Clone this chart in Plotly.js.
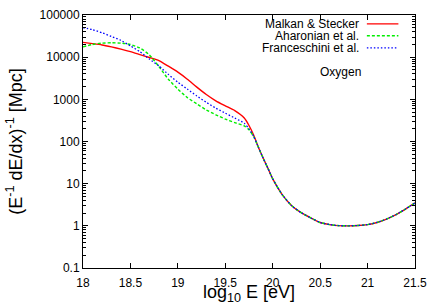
<!DOCTYPE html>
<html>
<head>
<meta charset="utf-8">
<script src="https://cdn.plot.ly/plotly-3.0.1.min.js"></script>
<style>html,body{margin:0;padding:0;background:#fff;}#chart{width:435px;height:305px;}</style>
</head>
<body>
<div id="chart"></div>
<script>
// log10 of energy [eV]
const logE = [18.0, 18.1, 18.2, 18.3, 18.4, 18.5, 18.6, 18.7, 18.8, 18.9, 19.0, 19.1, 19.2, 19.3, 19.4, 19.5, 19.6, 19.7, 19.75, 19.8,
  19.85, 19.9, 19.95, 20.0, 20.1, 20.2, 20.3, 20.4, 20.5, 20.6, 20.7, 20.8, 20.9, 21.0, 21.1, 21.2, 21.3, 21.4, 21.5];

// energy loss length (E^-1 dE/dx)^-1 in Mpc
const malkanStecker = [22500, 21000, 19500, 17500, 15500, 13500, 11500, 9800, 8300, 6100, 4400, 3000, 1950, 1300, 920, 700, 540, 360, 240, 140,
  72, 40, 23, 13, 5.5, 3.0, 2.05, 1.55, 1.2, 1.07, 1.01, 1.0, 1.02, 1.07, 1.2, 1.45, 1.85, 2.5, 3.5];
const aharonian = [17500, 20000, 21500, 22000, 21500, 20000, 16500, 11300, 6000, 3000, 1750, 1100, 780, 560, 430, 340, 280, 235, 190, 130,
  72, 40, 23, 13, 5.5, 3.0, 2.05, 1.55, 1.2, 1.07, 1.01, 1.0, 1.02, 1.07, 1.2, 1.45, 1.85, 2.5, 3.5];
const franceschini = [50000, 45000, 38000, 31000, 25000, 18500, 13500, 9000, 6200, 3900, 2550, 1750, 1200, 850, 620, 470, 360, 270, 200, 132,
  72, 40, 23, 13, 5.5, 3.0, 2.05, 1.55, 1.2, 1.07, 1.01, 1.0, 1.02, 1.07, 1.2, 1.45, 1.85, 2.5, 3.5];

const seriesNames = ['Malkan & Stecker', 'Aharonian et al.', 'Franceschini et al.'];
const seriesColors = ['#ff0000', '#00ee00', '#0000ff'];
const seriesDash = ['solid', '3px,2px', '1.5px,2px'];
const seriesWidth = [1.4, 1.4, 1.3];
const seriesValues = [malkanStecker, aharonian, franceschini];

const xTicks = [18, 18.5, 19, 19.5, 20, 20.5, 21, 21.5];
const yTicks = [0.1, 1, 10, 100, 1000, 10000, 100000];
const yTickText = ['0.1', '1', '10', '100', '1000', '10000', '100000'];
const panelLabel = 'Oxygen';

const font = 'Liberation Sans, Arial, Helvetica, sans-serif';

const traces = seriesValues.map((v, i) => ({
  x: logE, y: v, type: 'scatter', mode: 'lines', name: seriesNames[i],
  line: {color: seriesColors[i], width: seriesWidth[i], dash: seriesDash[i], shape: 'spline', smoothing: 0.6},
  showlegend: false, hoverinfo: 'skip'
}));

const annotations = [];
const shapes = [];
const legY = [0.965, 0.918, 0.870];
seriesNames.forEach((n, i) => {
  annotations.push({xref: 'paper', yref: 'paper', x: 0.835, y: legY[i], xanchor: 'right', yanchor: 'middle',
    text: n, showarrow: false, borderpad: 0, font: {family: font, size: 12, color: '#000'}});
  shapes.push({type: 'line', xref: 'paper', yref: 'paper', x0: 0.855, x1: 0.95, y0: legY[i], y1: legY[i],
    line: {color: seriesColors[i], width: seriesWidth[i], dash: seriesDash[i]}});
});
annotations.push({xref: 'paper', yref: 'paper', x: 0.775, y: 0.775, xanchor: 'center', yanchor: 'middle',
  text: panelLabel, showarrow: false, borderpad: 0, font: {family: font, size: 12, color: '#000'}});

const layout = {
  width: 435, height: 305,
  margin: {l: 83, r: 20, t: 15, b: 37},
  paper_bgcolor: '#fff', plot_bgcolor: '#fff',
  font: {family: font, size: 12, color: '#000'},
  xaxis: {
    range: [18, 21.5], tickvals: xTicks, ticktext: xTicks.map(String),
    ticks: 'inside', ticklen: 5, tickcolor: '#000', mirror: 'allticks',
    showline: true, linecolor: '#000', linewidth: 1, showgrid: false, zeroline: false,
    tickfont: {family: font, size: 12}, ticklabelstandoff: 4,
    title: {text: 'log<sub>10</sub> E [eV]', font: {family: font, size: 18}, standoff: 4}
  },
  yaxis: {
    type: 'log', range: [-1, 5], tickvals: yTicks, ticktext: yTickText,
    ticks: 'inside', ticklen: 5, tickcolor: '#000', mirror: 'allticks',
    showline: true, linecolor: '#000', linewidth: 1, showgrid: false, zeroline: false,
    tickfont: {family: font, size: 12},
    minor: {ticks: 'inside', ticklen: 3, tickcolor: '#000', dtick: 'D1', showgrid: false},
    title: {text: '(E<sup>-1</sup> dE/dx)<sup>-1</sup> [Mpc]', font: {family: font, size: 18}, standoff: 12}
  },
  annotations: annotations,
  shapes: shapes
};

Plotly.newPlot('chart', traces, layout, {displayModeBar: false, staticPlot: true});
</script>
</body>
</html>
